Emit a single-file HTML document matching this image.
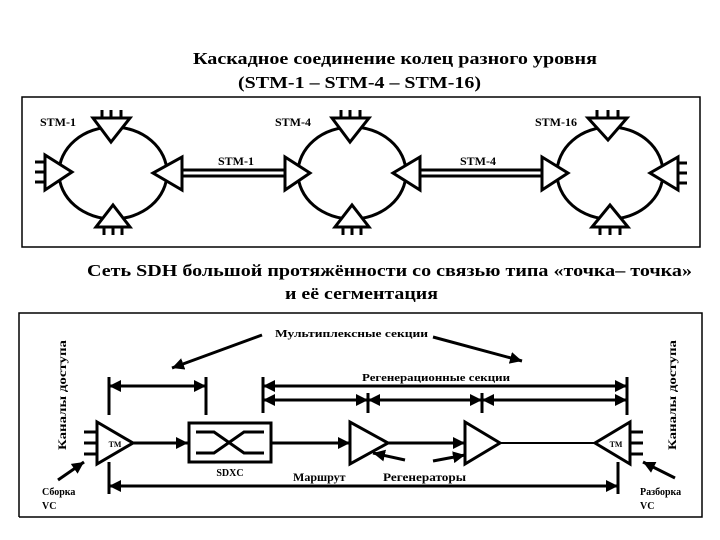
<!DOCTYPE html>
<html><head><meta charset="utf-8"><style>
html,body{margin:0;padding:0;background:#fff;}
svg{display:block;font-family:"Liberation Serif",serif;font-weight:bold;}
</style></head><body>
<svg width="720" height="540" viewBox="0 0 720 540" xmlns="http://www.w3.org/2000/svg">
<defs>
<marker id="a" viewBox="0 0 10 10" refX="10" refY="5" markerWidth="4" markerHeight="4" orient="auto-start-reverse" markerUnits="strokeWidth"><path d="M0,0L10,5L0,10z" fill="#000"/></marker>
</defs>
<g font-size="17">
<text x="193" y="64" textLength="404" lengthAdjust="spacingAndGlyphs">Каскадное соединение колец разного уровня</text>
<text x="238" y="88" textLength="243" lengthAdjust="spacingAndGlyphs">(STM-1 – STM-4 – STM-16)</text>
<text x="87" y="276" textLength="605" lengthAdjust="spacingAndGlyphs">Сеть SDH большой протяжённости со связью типа «точка– точка»</text>
<text x="285" y="299" textLength="153" lengthAdjust="spacingAndGlyphs">и её сегментация</text>
</g>
<rect x="22" y="97" width="678" height="150" fill="none" stroke="#000" stroke-width="1.5"/>
<g fill="none" stroke="#000" stroke-width="3">
<ellipse cx="113" cy="173" rx="54" ry="46"/>
<ellipse cx="352" cy="173" rx="54" ry="46"/>
<ellipse cx="610" cy="173" rx="53" ry="46"/>
<path d="M182,170H285M182,176H285M420,170H542M420,176H542"/>
</g>
<g fill="#fff" stroke="#000" stroke-width="3">
<path d="M93,118H130L111,142Z"/><path d="M102,118V110M111,118V110M121,118V110" fill="none"/>
<path d="M45,155V190L72,172Z"/><path d="M45,162H35M45,172H35M45,182H35" fill="none"/>
<path d="M96,227H130L113,205Z"/><path d="M104,227V235M113,227V235M122,227V235" fill="none"/>
<path d="M182,157V190L153,173Z"/>
<path d="M285,157V190L310,173Z"/>
<path d="M332,118H369L350,142Z"/><path d="M341,118V110M350,118V110M360,118V110" fill="none"/>
<path d="M335,227H369L352,205Z"/><path d="M343,227V235M352,227V235M361,227V235" fill="none"/>
<path d="M420,157V190L393,173Z"/>
<path d="M542,157V190L568,173Z"/>
<path d="M588,118H627L608,140Z"/><path d="M597,118V110M608,118V110M618,118V110" fill="none"/>
<path d="M592,227H628L610,205Z"/><path d="M600,227V235M610,227V235M620,227V235" fill="none"/>
<path d="M678,157V190L650,173Z"/><path d="M678,163H687M678,173H687M678,183H687" fill="none"/>
</g>
<g font-size="12">
<text x="40" y="126">STM-1</text><text x="275" y="126">STM-4</text><text x="535" y="126">STM-16</text>
<text x="218" y="165">STM-1</text><text x="460" y="165">STM-4</text>
</g>
<path d="M19,517V313H702V517H19" fill="none" stroke="#000" stroke-width="1.5"/>
<g font-size="11">
<text x="275" y="337" textLength="153" lengthAdjust="spacingAndGlyphs">Мультиплексные секции</text>
<text x="362" y="381" textLength="148" lengthAdjust="spacingAndGlyphs">Регенерационные секции</text>
<text x="230" y="476" text-anchor="middle" font-size="10">SDXC</text>
<text x="293" y="481" font-size="12">Маршрут</text>
<text x="383" y="481" font-size="12" textLength="83" lengthAdjust="spacingAndGlyphs">Регенераторы</text>
<text x="42" y="495" font-size="10">Сборка</text><text x="42" y="509" font-size="10">VC</text>
<text x="640" y="495" font-size="10">Разборка</text><text x="640" y="509" font-size="10">VC</text>
<text transform="translate(66,450) rotate(-90)" font-size="12" textLength="110" lengthAdjust="spacingAndGlyphs">Каналы  доступа</text>
<text transform="translate(676,450) rotate(-90)" font-size="12" textLength="110" lengthAdjust="spacingAndGlyphs">Каналы  доступа</text>
<text x="115" y="447" text-anchor="middle" font-size="8">ТМ</text>
<text x="616" y="447" text-anchor="middle" font-size="8">ТМ</text>
</g>
<g stroke="#000" stroke-width="3" fill="none">
<path d="M262,335L172,368" marker-end="url(#a)"/>
<path d="M433,337L522,361" marker-end="url(#a)"/>
<path d="M109,377V415M206,377V415M263,377V413M627,377V415M368,393V413M482,393V413M109,462V494M618,462V494"/>
<path d="M109,386H206" marker-start="url(#a)" marker-end="url(#a)"/>
<path d="M263,386H627" marker-start="url(#a)" marker-end="url(#a)"/>
<path d="M263,400H368" marker-start="url(#a)" marker-end="url(#a)"/>
<path d="M368,400H482" marker-start="url(#a)" marker-end="url(#a)"/>
<path d="M482,400H627" marker-start="url(#a)" marker-end="url(#a)"/>
<path d="M109,486H618" marker-start="url(#a)" marker-end="url(#a)"/>
<path d="M133,443H188" marker-end="url(#a)"/>
<path d="M271,443H350" marker-end="url(#a)"/>
<path d="M388,443H465" marker-end="url(#a)"/>
<path d="M500,443H595" stroke-width="2"/>
<path d="M405,460L373,453" marker-end="url(#a)"/>
<path d="M433,461L465,455" marker-end="url(#a)"/>
<path d="M58,480L84,462" marker-end="url(#a)"/>
<path d="M675,478L643,462" marker-end="url(#a)"/>
<path d="M84,432H97M84,443H97M84,454H97M630,432H643M630,443H643M630,454H643"/>
<path d="M97,422V464L133,443Z"/>
<path d="M630,422V464L595,443Z"/>
<path d="M350,422V464L388,443Z"/>
<path d="M465,422V464L500,443Z"/>
<rect x="189" y="423" width="82" height="39"/>
<path d="M196,432H214L244,453H264M196,453H214L244,432H264"/>
</g>
</svg>
</body></html>
